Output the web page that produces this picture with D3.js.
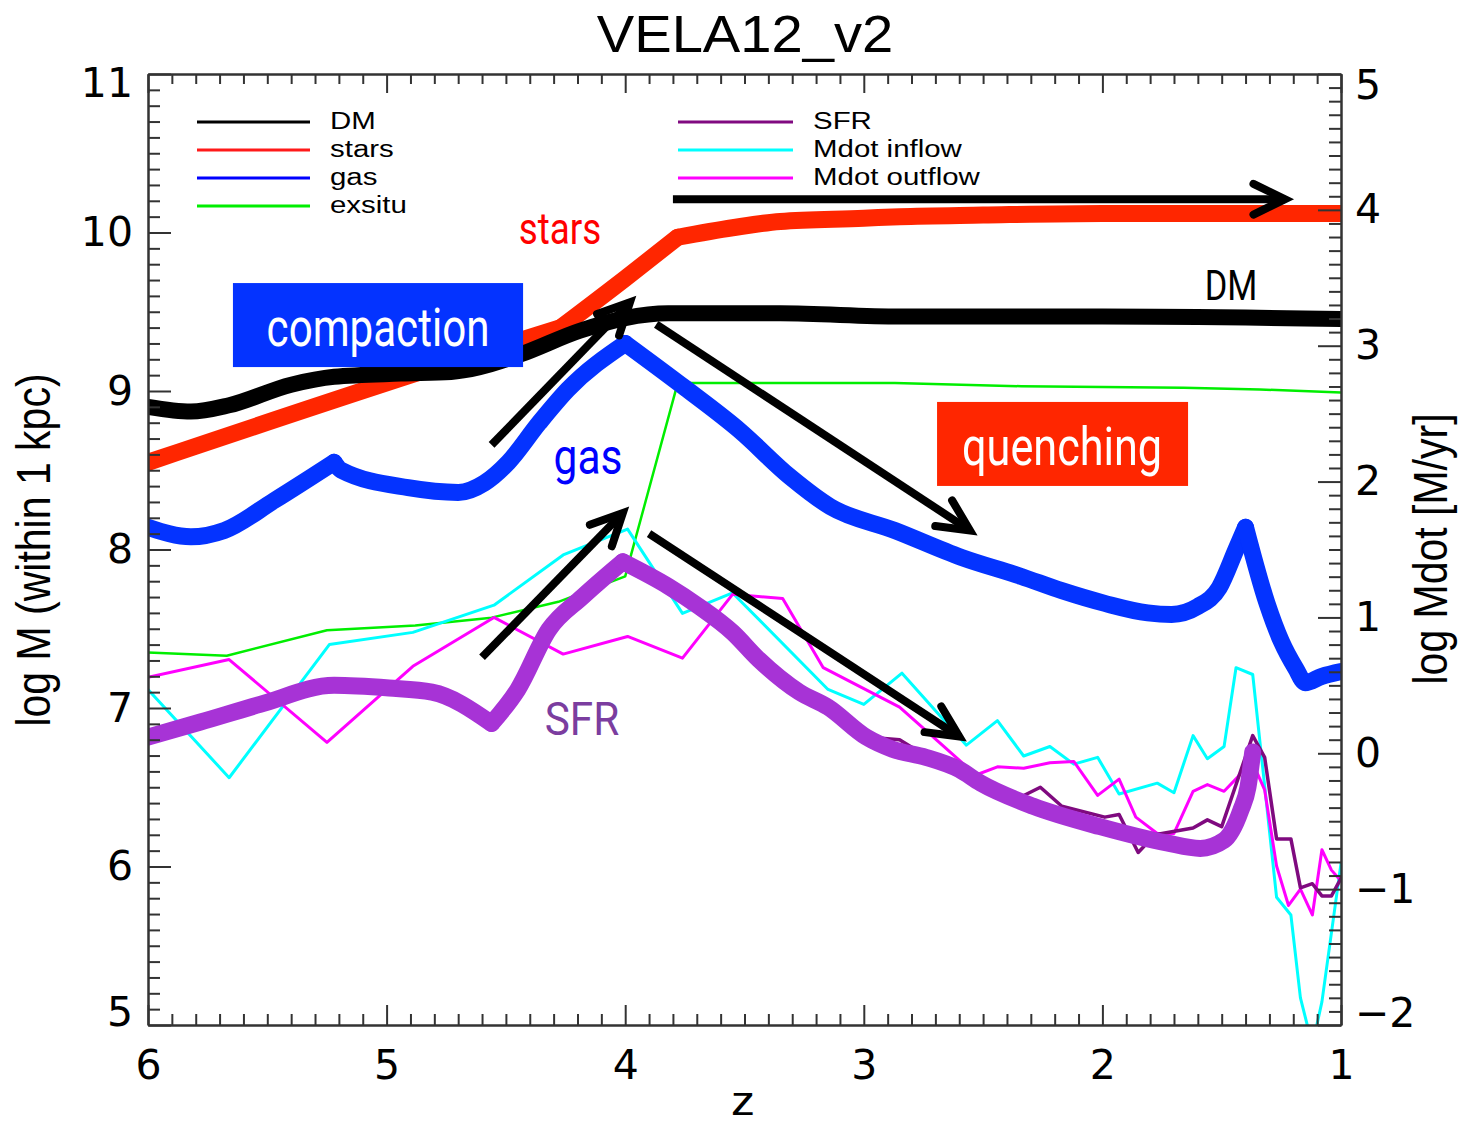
<!DOCTYPE html>
<html>
<head>
<meta charset="utf-8">
<script src="https://cdnjs.cloudflare.com/ajax/libs/d3/7.8.5/d3.min.js"></script>
<style>
  body { margin: 0; background: #fff; }
</style>
</head>
<body>
<svg id="chart" width="1462" height="1126"></svg>
<script>
// ---------------------------------------------------------------
// data - left axis: log M, right axis: log Mdot
var starsZ = [6.0, 4.61, 4.27, 4.0, 3.78, 3.55, 3.35, 3.0, 2.85, 2.5, 2.0, 1.5, 1.0];
var starsM = [8.55, 9.24, 9.40, 9.71, 9.97, 10.03, 10.07, 10.09, 10.10, 10.11, 10.12, 10.12, 10.12];

var dmZ = [6.0, 5.82, 5.66, 5.40, 5.22, 4.94, 4.73, 4.61, 4.44, 4.19, 4.0, 3.82, 3.35, 2.85, 2.0, 1.0];
var dmM = [8.90, 8.87, 8.91, 9.04, 9.09, 9.11, 9.12, 9.15, 9.23, 9.38, 9.46, 9.49, 9.49, 9.47, 9.47, 9.455];

var gasZ = [6.0, 5.82, 5.68, 5.47, 5.22, 5.19, 4.91, 4.70, 4.59, 4.49, 4.36, 4.24, 4.0, 3.75, 3.52, 3.31,
            3.14, 2.87, 2.59, 2.34, 2.17, 1.99, 1.81, 1.71, 1.60, 1.51, 1.44, 1.40, 1.31, 1.25, 1.19, 1.15, 1.08, 1.0];
var gasM = [8.14, 8.08, 8.12, 8.31, 8.55, 8.50, 8.39, 8.36, 8.42, 8.55, 8.80, 9.01, 9.30, 9.02, 8.75, 8.46,
            8.27, 8.12, 7.95, 7.83, 7.74, 7.66, 7.60, 7.59, 7.64, 7.76, 8.00, 8.14, 7.66, 7.42, 7.25, 7.16, 7.20, 7.23];

var exsituZ = [6.0, 5.67, 5.25, 4.88, 4.56, 4.28, 4.0, 3.78, 3.40, 2.87, 2.34, 1.66, 1.34, 1.0];
var exsituM = [7.35, 7.33, 7.49, 7.52, 7.57, 7.67, 7.83, 9.05, 9.05, 9.05, 9.03, 9.02, 9.01, 8.99];

var inflowZ = [6.0, 5.66, 5.24, 4.89, 4.55, 4.26, 3.99, 3.76, 3.55, 3.15, 3.0, 2.84, 2.57, 2.44, 2.33, 2.22,
               2.12, 2.02, 1.93, 1.77, 1.70, 1.62, 1.56, 1.49, 1.44, 1.37, 1.27, 1.21, 1.17, 1.12, 1.08, 1.0];
var inflowV = [0.47, -0.18, 0.80, 0.89, 1.09, 1.46, 1.65, 1.03, 1.18, 0.47, 0.36, 0.59, 0.06, 0.24, -0.02, 0.05,
               -0.08, -0.03, -0.30, -0.22, -0.29, 0.13, -0.04, 0.05, 0.63, 0.58, -1.06, -1.19, -1.80, -2.15, -1.83, -0.81];

var outflowZ = [6.0, 5.66, 5.25, 4.89, 4.55, 4.26, 3.99, 3.76, 3.55, 3.34, 3.17, 2.85, 2.53, 2.44, 2.33, 2.22, 2.12,
                2.02, 1.93, 1.86, 1.77, 1.70, 1.62, 1.56, 1.49, 1.43, 1.38, 1.32, 1.27, 1.22, 1.17, 1.12, 1.08, 1.04, 1.0];
var outflowV = [0.56, 0.69, 0.08, 0.64, 1.00, 0.73, 0.86, 0.70, 1.17, 1.14, 0.63, 0.34, -0.16, -0.10, -0.11, -0.07, -0.06,
                -0.31, -0.19, -0.47, -0.59, -0.59, -0.28, -0.23, -0.28, -0.17, -0.03, -0.27, -0.83, -1.12, -1.00, -1.19, -0.71, -0.86, -0.94];

var sfrZ = [6.0, 5.78, 5.53, 5.22, 4.99, 4.81, 4.56, 4.45, 4.32, 4.18, 4.01, 3.82, 3.69, 3.55, 3.44, 3.27, 3.15, 2.99,
            2.85, 2.74, 2.55, 2.34, 2.26, 2.17, 1.99, 1.93, 1.85, 1.78, 1.62, 1.56, 1.50, 1.37, 1.32, 1.27, 1.21, 1.17,
            1.12, 1.08, 1.04, 1.0];
var sfrV = [0.14, 0.21, 0.38, 0.50, 0.49, 0.43, 0.24, 0.46, 0.92, 1.13, 1.42, 1.21, 1.09, 0.87, 0.70, 0.44, 0.36, 0.12,
            0.10, -0.02, -0.19, -0.32, -0.25, -0.39, -0.47, -0.45, -0.73, -0.60, -0.55, -0.49, -0.54, 0.13, -0.03, -0.63,
            -0.63, -0.99, -0.96, -1.05, -1.05, -0.92];

// hand-drawn smooth SFR curve
var sfrSmoothZ = [6.0, 5.78, 5.53, 5.22, 4.99, 4.81, 4.56, 4.45, 4.32, 4.18, 4.01, 3.82, 3.69, 3.55, 3.44, 3.27, 3.15,
                  2.99, 2.88, 2.74, 2.60, 2.51, 2.29, 2.01, 1.73, 1.59, 1.49, 1.42, 1.39, 1.37];
var sfrSmoothV = [0.12, 0.23, 0.36, 0.50, 0.48, 0.45, 0.22, 0.47, 0.91, 1.15, 1.41, 1.23, 1.08, 0.89, 0.69, 0.45, 0.34,
                  0.12, 0.03, -0.03, -0.12, -0.22, -0.39, -0.54, -0.66, -0.70, -0.64, -0.42, -0.25, 0.01];

// where the hand-drawn curves have sharp corners
var starsKinks = [4.27, 3.78];
var gasKinks = [5.22, 4.0, 1.40];
var sfrSmoothKinks = [4.56, 4.01];

// ticks
var zTicks = [6, 5, 4, 3, 2, 1];
var mTicks = [5, 6, 7, 8, 9, 10, 11];
var mdotTicks = [-2, -1, 0, 1, 2, 3, 4, 5];
var zMinor = d3.range(11, 60).filter(function(d) { return d % 10 !== 0; }).map(function(d) { return d / 10; });
var mMinor = d3.range(51, 110).filter(function(d) { return d % 10 !== 0; }).map(function(d) { return d / 10; });
var mdotMinor = d3.range(-19, 50).filter(function(d) { return d % 10 !== 0; }).map(function(d) { return d / 10; });

// legend
var legendLeft = ["DM", "stars", "gas", "exsitu"];
var legendLeftColors = ["#000000", "#ff1a1a", "#0000ff", "#00ee00"];
var legendRight = ["SFR", "Mdot inflow", "Mdot outflow"];
var legendRightColors = ["#800a80", "#00ffff", "#ff00ff"];

/**
 * ---------------------------------------------------------------
 * scales
 */
var svg = d3.select("#chart");
var x = d3.scaleLinear().domain([6, 1]).range([148, 1341]);
var yL = d3.scaleLinear().domain([5, 11]).range([1025, 74]);
var yR = d3.scaleLinear().domain([-2, 5]).range([1025, 74]);

svg.append("clipPath").attr("id", "plotclip")
	.append("rect").attr("x", 148).attr("y", 74).attr("width", 1193).attr("height", 951);

var plot = svg.append("g").attr("clip-path", "url(#plotclip)");

function drawLine(zs, vs, y, color, width, curve, kinks) {
	var pts = zs.map(function(z, i) { return [z, vs[i]]; });
	// split into pieces at the kinks, each piece drawn as its own path
	var pieces = [[]];
	pts.forEach(function(p) {
		pieces[pieces.length - 1].push(p);
		if (kinks && kinks.indexOf(p[0]) >= 0) pieces.push([p]);
	});
	var line = d3.line()
		.x(function(d) { return x(d[0]); })
		.y(function(d) { return y(d[1]); })
		.curve(curve || d3.curveLinear);
	pieces.forEach(function(seg) {
		if (seg.length < 2) return;
		plot.append("path").datum(seg)
			.attr("d", line)
			.attr("fill", "none")
			.attr("stroke", color)
			.attr("stroke-width", width)
			.attr("stroke-linejoin", "round")
			.attr("stroke-linecap", "round");
	});
}

// thin lines first, thick hand-drawn ones on top
drawLine(exsituZ, exsituM, yL, "#00ee00", 2.5);
drawLine(inflowZ, inflowV, yR, "#00ffff", 3);
drawLine(outflowZ, outflowV, yR, "#ff00ff", 3);
drawLine(sfrZ, sfrV, yR, "#7f0a7f", 3.5);
drawLine(sfrSmoothZ, sfrSmoothV, yR, "#a733d6", 17, d3.curveMonotoneX, sfrSmoothKinks);
drawLine(gasZ, gasM, yL, "#0433ff", 17, d3.curveMonotoneX, gasKinks);
drawLine(starsZ, starsM, yL, "#ff2600", 17, d3.curveMonotoneX, starsKinks);
drawLine(dmZ, dmM, yL, "#000000", 16, d3.curveMonotoneX);

/**
 * ---------------------------------------------------------------
 * annotations (placed in left-axis data units)
 */
function box(z0, v0, z1, v1, color) {
	svg.append("rect")
		.attr("x", x(z0)).attr("y", yL(v0))
		.attr("width", x(z1) - x(z0)).attr("height", yL(v1) - yL(v0))
		.attr("fill", color);
}
function label(z, v, txt, color, size, sx) {
	svg.append("g")
		.attr("transform", "translate(" + x(z) + "," + yL(v) + ") scale(" + sx + ",1)")
		.append("text")
		.attr("text-anchor", "middle")
		.attr("font-family", "Roboto, 'Open Sans', sans-serif")
		.attr("font-size", size)
		.attr("fill", color)
		.text(txt);
}
function arrow(z0, v0, z1, v1) {
	var x0 = x(z0), y0 = yL(v0), x1 = x(z1), y1 = yL(v1);
	var ang = Math.atan2(y0 - y1, x0 - x1), len = 35, spread = 26 * Math.PI / 180;
	svg.append("line")
		.attr("x1", x0).attr("y1", y0).attr("x2", x1).attr("y2", y1)
		.attr("stroke", "#000").attr("stroke-width", 8);
	var a1 = [x1 + len * Math.cos(ang + spread), y1 + len * Math.sin(ang + spread)];
	var a2 = [x1 + len * Math.cos(ang - spread), y1 + len * Math.sin(ang - spread)];
	svg.append("path")
		.attr("d", "M" + a1 + "L" + [x1, y1] + "L" + a2)
		.attr("fill", "none").attr("stroke", "#000").attr("stroke-width", 8)
		.attr("stroke-linecap", "round").attr("stroke-linejoin", "miter");
}

box(5.644, 9.681, 4.428, 9.151, "#0433ff");
box(2.693, 8.931, 1.641, 8.401, "#ff2600");
label(5.036, 9.284, "compaction", "#fff", 54, 0.78);
label(2.169, 8.533, "quenching", "#fff", 54, 0.8);
label(4.273, 9.927, "stars", "#ff0000", 45, 0.82);
label(1.461, 9.574, "DM", "#000", 42, 0.82);
label(4.156, 8.476, "gas", "#0000ff", 50, 0.85);
label(4.181, 6.83, "SFR", "#7b3d9f", 46, 0.92);

arrow(3.80, 10.21, 1.235, 10.21);
arrow(4.56, 8.66, 3.98, 9.56);
arrow(3.87, 9.42, 2.555, 8.12);
arrow(4.60, 7.32, 4.01, 8.23);
arrow(3.90, 8.10, 2.60, 6.82);

/**
 * ---------------------------------------------------------------
 * legend
 */
function legendCol(names, colors, lx0, lx1, tx) {
	names.forEach(function(n, i) {
		var ly = 122 + i * 28;
		svg.append("line").attr("x1", lx0).attr("x2", lx1).attr("y1", ly).attr("y2", ly)
			.attr("stroke", colors[i]).attr("stroke-width", 3);
		svg.append("g").attr("transform", "translate(" + tx + "," + (ly + 7) + ") scale(1.28,1)")
			.append("text")
			.attr("font-family", "'Liberation Sans', Arial, sans-serif")
			.attr("font-size", 23)
			.attr("fill", "#000")
			.text(n);
	});
}
legendCol(legendLeft, legendLeftColors, 197, 310, 330);
legendCol(legendRight, legendRightColors, 678, 793, 813);

/**
 * ---------------------------------------------------------------
 * axes
 */
function styleAxis(g, showText) {
	g.select(".domain").attr("stroke", "#333").attr("stroke-width", 2);
	g.selectAll(".tick line").attr("stroke", "#333").attr("stroke-width", 2);
	g.attr("font-family", "'DejaVu Sans', sans-serif").attr("font-size", 41);
	g.selectAll(".tick text").attr("fill", "#000");
	if (!showText) g.selectAll(".tick text").remove();
}

var gB = svg.append("g").attr("transform", "translate(0,1025)")
	.call(d3.axisBottom(x).tickValues(zTicks).tickSize(-20).tickSizeOuter(0).tickPadding(25).tickFormat(d3.format("d")));
styleAxis(gB, true);
styleAxis(svg.append("g").attr("transform", "translate(0,1025)")
	.call(d3.axisBottom(x).tickValues(zMinor).tickSize(-11).tickSizeOuter(0)), false);

styleAxis(svg.append("g").attr("transform", "translate(0,74)")
	.call(d3.axisTop(x).tickValues(zTicks).tickSize(-19).tickSizeOuter(0)), false);
styleAxis(svg.append("g").attr("transform", "translate(0,74)")
	.call(d3.axisTop(x).tickValues(zMinor).tickSize(-10).tickSizeOuter(0)), false);

var gL = svg.append("g").attr("transform", "translate(148,0)")
	.call(d3.axisLeft(yL).tickValues(mTicks).tickSize(-23).tickSizeOuter(0).tickPadding(15).tickFormat(d3.format("d")));
styleAxis(gL, true);
styleAxis(svg.append("g").attr("transform", "translate(148,0)")
	.call(d3.axisLeft(yL).tickValues(mMinor).tickSize(-12).tickSizeOuter(0)), false);

var gR = svg.append("g").attr("transform", "translate(1341,0)")
	.call(d3.axisRight(yR).tickValues(mdotTicks).tickSize(-23).tickSizeOuter(0).tickPadding(14).tickFormat(d3.format("d")));
styleAxis(gR, true);
styleAxis(svg.append("g").attr("transform", "translate(1341,0)")
	.call(d3.axisRight(yR).tickValues(mdotMinor).tickSize(-12).tickSizeOuter(0)), false);

// end labels sit inside the frame, as in the original
gL.selectAll(".tick text").filter(function(d) { return d === 11; }).attr("transform", "translate(0,9)");
gL.selectAll(".tick text").filter(function(d) { return d === 5; }).attr("transform", "translate(0,-13)");
gR.selectAll(".tick text").filter(function(d) { return d === 5; }).attr("transform", "translate(0,11)");
gR.selectAll(".tick text").filter(function(d) { return d === -2; }).attr("transform", "translate(0,-12)");

/**
 * ---------------------------------------------------------------
 * titles
 */
svg.append("g").attr("transform", "translate(745,52) scale(1.08,1)")
	.append("text").attr("text-anchor", "middle")
	.attr("font-family", "'Liberation Sans', Arial, sans-serif").attr("font-size", 52)
	.text("VELA12_v2");

svg.append("g").attr("transform", "translate(743,1115) scale(1.2,1)")
	.append("text").attr("text-anchor", "middle")
	.attr("font-family", "'Liberation Sans', Arial, sans-serif").attr("font-size", 40)
	.text("z");

svg.append("g").attr("transform", "translate(50,550) rotate(-90) scale(1,1.15)")
	.append("text").attr("text-anchor", "middle")
	.attr("font-family", "'Liberation Sans', Arial, sans-serif").attr("font-size", 41)
	.text("log M (within 1 kpc)");

svg.append("g").attr("transform", "translate(1447,549) rotate(-90) scale(1,1.15)")
	.append("text").attr("text-anchor", "middle")
	.attr("font-family", "'Liberation Sans', Arial, sans-serif").attr("font-size", 41)
	.text("log Mdot [M/yr]");
</script>
</body>
</html>
